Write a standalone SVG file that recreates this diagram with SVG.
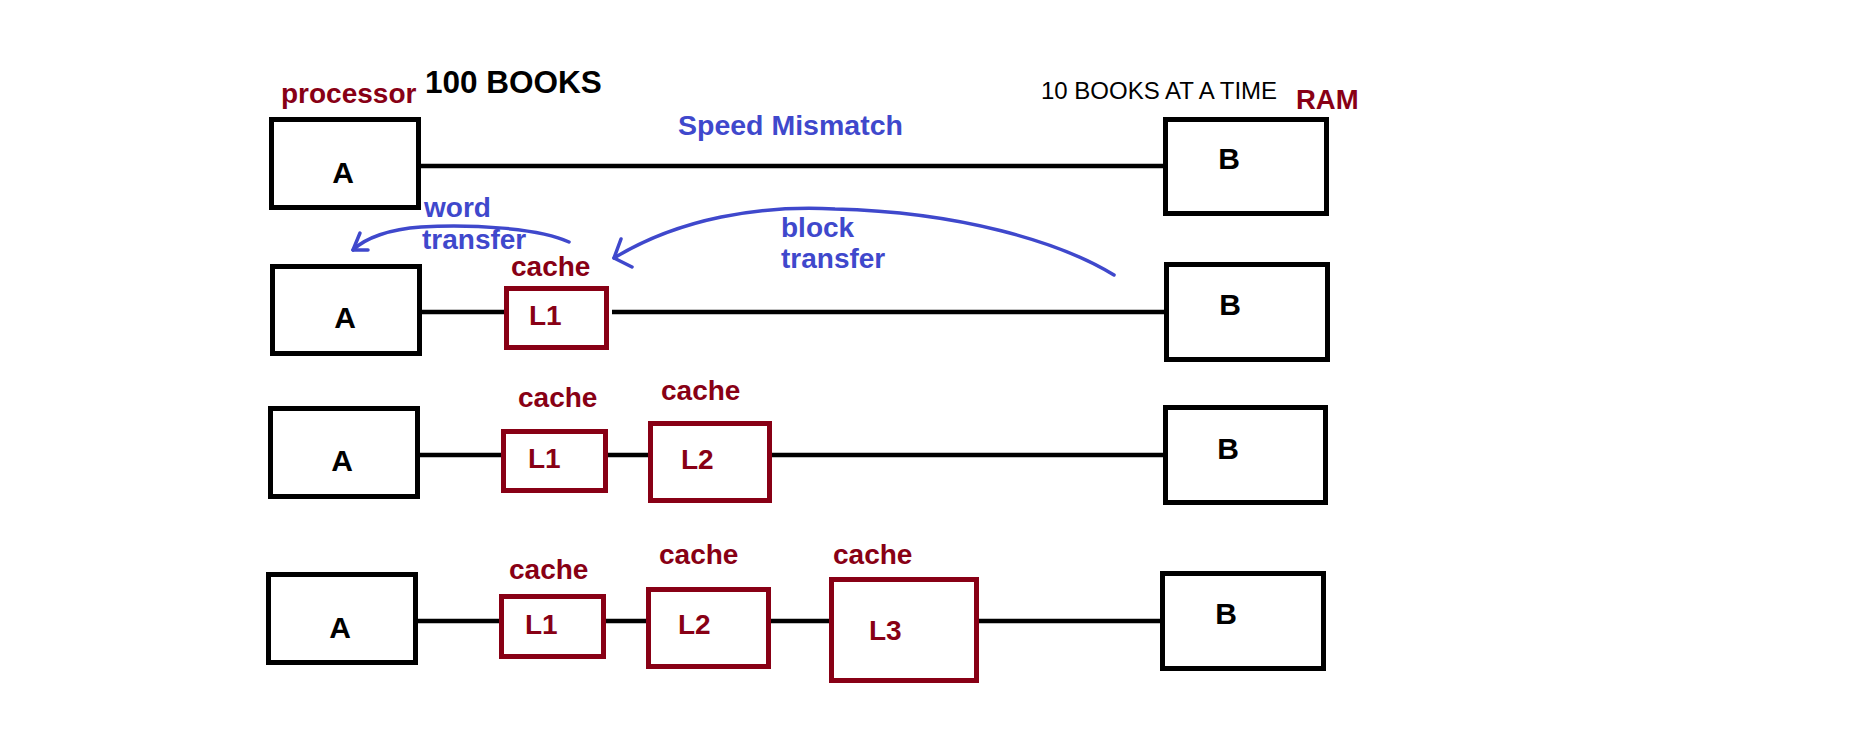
<svg xmlns="http://www.w3.org/2000/svg" width="1850" height="743" viewBox="0 0 1850 743">
<style>
.box{fill:#fff;stroke:#000;stroke-width:5}
.cbox{fill:#fff;stroke:#880015;stroke-width:5}
.ln{stroke:#000;stroke-width:4.5;fill:none}
.pen{stroke:#3F48CC;stroke-width:3.5;fill:none;stroke-linecap:round;stroke-linejoin:round}
text{font-family:"Liberation Sans",Arial,sans-serif;font-weight:bold;font-size:28px}
.red{fill:#880015}
.blue{fill:#3F48CC}
.big{font-size:31.5px}
.c{text-anchor:middle;font-size:30px}
</style>
<rect width="1850" height="743" fill="#fff"/>
<g id="connectors">
<line class="ln" x1="419" y1="166" x2="1166" y2="166"/>
<line class="ln" x1="420" y1="312" x2="506" y2="312"/>
<line class="ln" x1="612" y1="312" x2="1167" y2="312"/>
<line class="ln" x1="418" y1="455" x2="503" y2="455"/>
<line class="ln" x1="608" y1="455" x2="650" y2="455"/>
<line class="ln" x1="770" y1="455" x2="1166" y2="455"/>
<line class="ln" x1="416" y1="621" x2="501" y2="621"/>
<line class="ln" x1="604" y1="621" x2="648" y2="621"/>
<line class="ln" x1="769" y1="621" x2="831" y2="621"/>
<line class="ln" x1="977" y1="621" x2="1163" y2="621"/>
<path class="pen" d="M569,242 C540,228 470,224 421,227 C390,229 365,238 353,250"/>
<path class="pen" d="M360,233 L353,250 L368,250"/>
<path class="pen" d="M1114,275 C1060,242 960,212 835,209 C760,205 680,218 614,258"/>
<path class="pen" d="M621,239 L614,258 L632,267"/>
</g>
<g id="labels">
<text class="red" x="281" y="103">processor</text>
<text class="big" x="425" y="93">100 BOOKS</text>
<text class="blue" x="678" y="135" style="font-size:28.5px">Speed Mismatch</text>
<text x="1041" y="99" style="font-weight:normal;font-size:24px">10 BOOKS AT A TIME</text>
<text class="red" x="1296" y="109" style="font-size:27.5px">RAM</text>
<text class="blue" x="424" y="217">word</text>
<text class="blue" x="422" y="249">transfer</text>
<text class="blue" x="781" y="237">block</text>
<text class="blue" x="781" y="268">transfer</text>
</g>
<g id="row1-A"><rect class="box" x="271.5" y="119.5" width="147" height="88"/><text class="c" x="343" y="183">A</text></g>
<g id="row1-B"><rect class="box" x="1165.5" y="119.5" width="161" height="94"/><text class="c" x="1229" y="169">B</text></g>
<g id="row2-A"><rect class="box" x="272.5" y="266.5" width="147" height="87"/><text class="c" x="345" y="328">A</text></g>
<g id="row2-L1"><rect class="cbox" x="506.5" y="288.5" width="100" height="59"/><text class="red" x="511" y="276">cache</text><text class="red" x="529" y="325">L1</text></g>
<g id="row2-B"><rect class="box" x="1166.5" y="264.5" width="161" height="95"/><text class="c" x="1230" y="315">B</text></g>
<g id="row3-A"><rect class="box" x="270.5" y="408.5" width="147" height="88"/><text class="c" x="342" y="471">A</text></g>
<g id="row3-L1"><rect class="cbox" x="503.5" y="431.5" width="102" height="59"/><text class="red" x="518" y="407">cache</text><text class="red" x="528" y="468">L1</text></g>
<g id="row3-L2"><rect class="cbox" x="650.5" y="423.5" width="119" height="77"/><text class="red" x="661" y="400">cache</text><text class="red" x="681" y="469">L2</text></g>
<g id="row3-B"><rect class="box" x="1165.5" y="407.5" width="160" height="95"/><text class="c" x="1228" y="459">B</text></g>
<g id="row4-A"><rect class="box" x="268.5" y="574.5" width="147" height="88"/><text class="c" x="340" y="638">A</text></g>
<g id="row4-L1"><rect class="cbox" x="501.5" y="596.5" width="102" height="60"/><text class="red" x="509" y="579">cache</text><text class="red" x="525" y="634">L1</text></g>
<g id="row4-L2"><rect class="cbox" x="648.5" y="589.5" width="120" height="77"/><text class="red" x="659" y="564">cache</text><text class="red" x="678" y="634">L2</text></g>
<g id="row4-L3"><rect class="cbox" x="831.5" y="579.5" width="145" height="101"/><text class="red" x="833" y="564">cache</text><text class="red" x="869" y="640">L3</text></g>
<g id="row4-B"><rect class="box" x="1162.5" y="573.5" width="161" height="95"/><text class="c" x="1226" y="624">B</text></g>
</svg>
